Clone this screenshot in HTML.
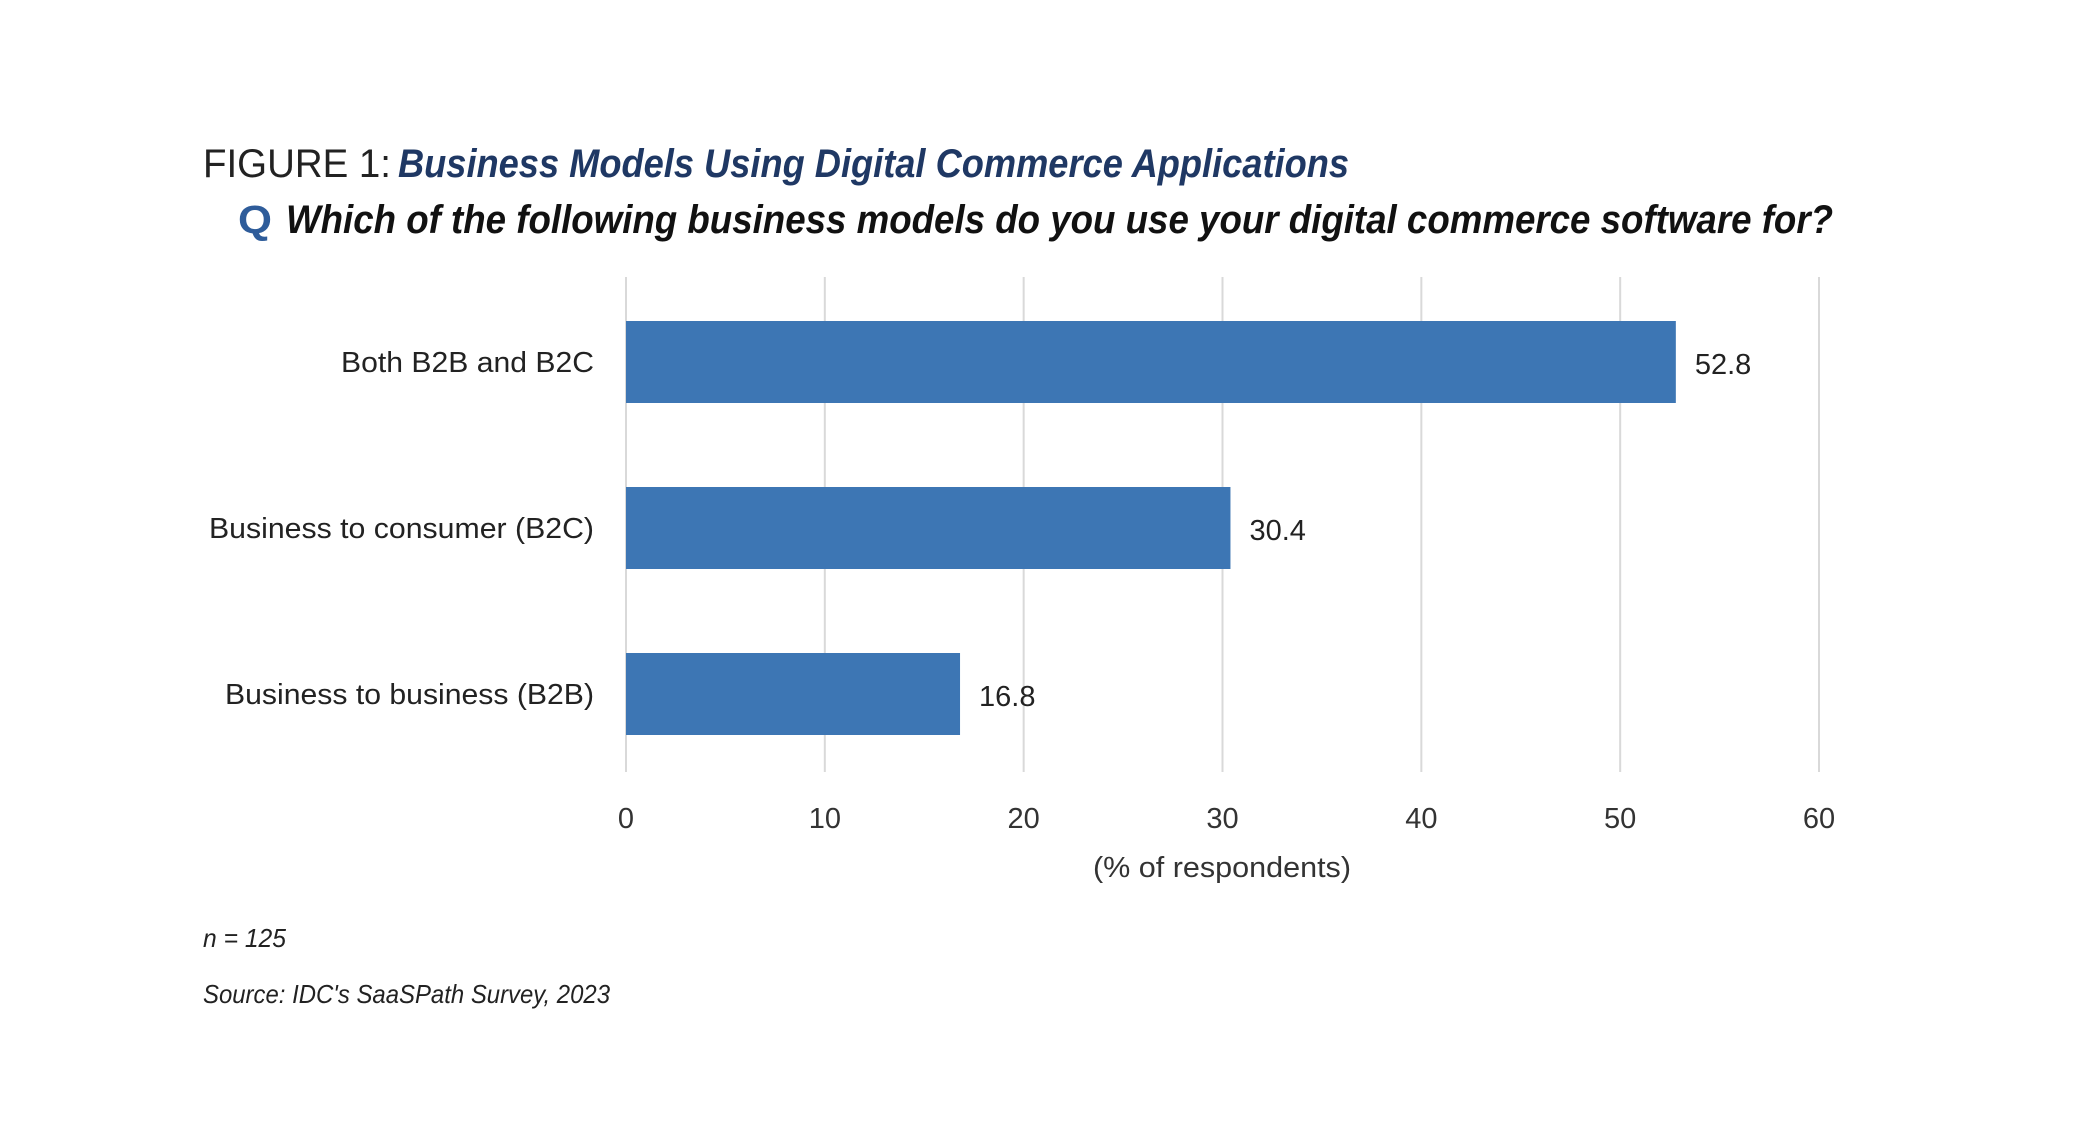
<!DOCTYPE html>
<html><head><meta charset="utf-8"><style>
html,body{margin:0;padding:0;background:#fff;}
svg{display:block;font-family:"Liberation Sans",sans-serif;}
</style></head><body>
<svg id="chart" width="2096" height="1128" viewBox="0 0 2096 1128" xmlns="http://www.w3.org/2000/svg">
<text x="203" y="177" font-size="40" fill="#222" textLength="188" lengthAdjust="spacingAndGlyphs">FIGURE 1:</text>
<text x="398" y="177" font-size="40" font-weight="bold" font-style="italic" fill="#1f3864" textLength="951" lengthAdjust="spacingAndGlyphs">Business Models Using Digital Commerce Applications</text>
<text x="238" y="233" font-size="40" font-weight="bold" fill="#2e5c9a" textLength="34" lengthAdjust="spacingAndGlyphs">Q</text>
<text x="286" y="233" font-size="40" font-weight="bold" font-style="italic" fill="#111" textLength="1547" lengthAdjust="spacingAndGlyphs">Which of the following business models do you use your digital commerce software for?</text>
<g id="grid"></g>
<g id="bars"></g>
<text x="1222" y="877" font-size="29" fill="#333" text-anchor="middle" textLength="258" lengthAdjust="spacingAndGlyphs">(% of respondents)</text>
<text x="203" y="947" font-size="26" font-style="italic" fill="#222" textLength="83" lengthAdjust="spacingAndGlyphs">n = 125</text>
<text x="203" y="1003" font-size="26" font-style="italic" fill="#222" textLength="407" lengthAdjust="spacingAndGlyphs">Source: IDC's SaaSPath Survey, 2023</text>
</svg>
<script>
const categories = ["Both B2B and B2C", "Business to consumer (B2C)", "Business to business (B2B)"];
const values = [52.8, 30.4, 16.8];
const ticks = [0, 10, 20, 30, 40, 50, 60];
const labelWidths = [253, 385, 369];

const NS = "http://www.w3.org/2000/svg";
const x0 = 626, x1 = 1819, xmax = 60;
const X = v => x0 + (v / xmax) * (x1 - x0);
const bandTop = 277, band = 166, barH = 82;
const Y = i => bandTop + band * i + (band - barH) / 2 + 2;
function mk(tag, attrs, parent) {
  const e = document.createElementNS(NS, tag);
  for (const k in attrs) e.setAttribute(k, attrs[k]);
  parent.appendChild(e);
  return e;
}
const grid = document.getElementById('grid');
const bars = document.getElementById('bars');
ticks.forEach(t => {
  const l = mk('line', {x1: X(t), x2: X(t), y1: 277, y2: 772, stroke: '#d9d9d9', 'stroke-width': 2}, grid);
  
  
  const tx = mk('text', {x: X(t), y: 828, 'font-size': 29, fill: '#333', 'text-anchor': 'middle'}, grid);
  tx.textContent = String(t);
  
  
});
categories.forEach((c, i) => {
  const y = Y(i);
  const r = mk('rect', {x: X(0), y: y, width: X(values[i]) - X(0), height: barH, fill: '#3d76b4'}, bars);
  
  
  const cl = mk('text', {x: 594, y: y + barH / 2 + 10, 'font-size': 29, fill: '#222', 'text-anchor': 'end', textLength: labelWidths[i], lengthAdjust: 'spacingAndGlyphs'}, bars);
  cl.textContent = c;
  
  
  const vl = mk('text', {x: X(values[i]) + 19, y: y + barH / 2 + 12, 'font-size': 29, fill: '#222'}, bars);
  vl.textContent = values[i].toFixed(1);
  
  
});
</script>
</body></html>
